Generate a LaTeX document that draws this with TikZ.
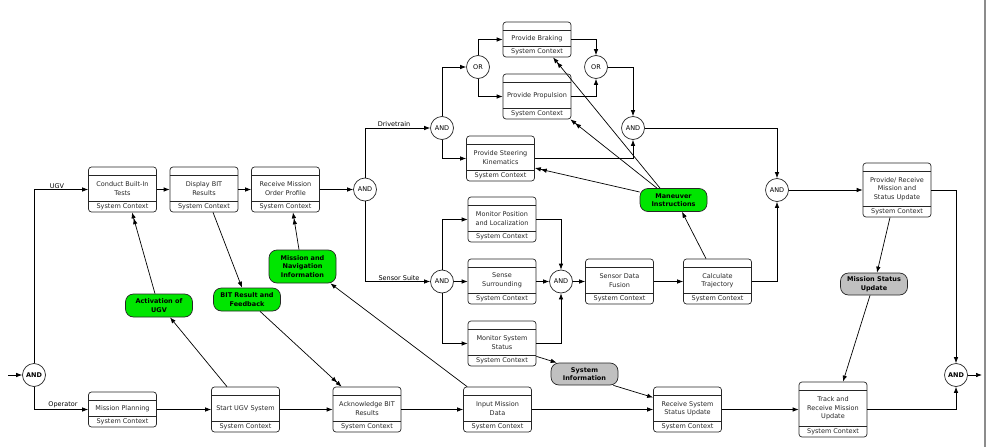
\documentclass[tikz,border=0pt]{standalone}
\usepackage{fontspec}
\setmainfont{DejaVu Sans}
\usepackage{tikz}
\usetikzlibrary{arrows.meta}
\definecolor{dataGreen}{RGB}{0,230,0}
\definecolor{dataGrey}{RGB}{192,192,192}
\tikzset{
	fn_box/.style = {rectangle, draw=black!85, rounded corners=3pt,
		minimum width=68pt, inner sep=0pt},
	fn_text/.style = {align=center, inner sep=0pt, text=black!85,
		font=\fontsize{6.5}{8.5}\selectfont},
	gate_n/.style = {circle, draw=black!85, fill=white, minimum size=23pt,
		inner sep=0pt, font=\fontsize{6.5}{8}\selectfont},
	gate_b/.style = {gate_n, font=\fontsize{6.5}{8}\selectfont\bfseries},
	item_g/.style = {draw=black!85, fill=dataGreen, rounded corners=8pt, align=center,
		minimum width=67pt, minimum height=23pt, inner sep=1pt,
		font=\fontsize{6.5}{8.5}\selectfont\bfseries},
	item_s/.style = {item_g, fill=dataGrey},
	lbl/.style = {anchor=south, inner sep=1pt, font=\fontsize{6.5}{8}\selectfont}
}
% function box: name, x, y, height, text
\newcommand{\fnnode}[5]{%
	\node[fn_box, minimum height=#4pt] (#1) at (#2,#3) {};
	\draw[-, draw=black!85] ([yshift=-9pt]#1.north west) -- ([yshift=-9pt]#1.north east);
	\draw[-, draw=black!85] ([yshift=11pt]#1.south west) -- ([yshift=11pt]#1.south east);
	\node[fn_text] (#1_t) at ([yshift=1pt]#1.center) {#5};
	\node[fn_text] (#1_c) at ([yshift=5.5pt]#1.south) {System Context};
}

\begin{document}
\begin{tikzpicture}[x=1pt, y=-1pt, ->, >={Latex[length=6pt,width=4.5pt]}, line width=0.7pt]
\useasboundingbox (0,0) rectangle (995,447);
\draw[-, draw=black!45, line width=1.5pt] (985,0) -- (985,447);

% functions
\fnnode{ctest}{122.5}{189.5}{45}{Conduct Built-In\\Tests}
\fnnode{dbit}{204}{189.5}{45}{Display BIT\\Results}
\fnnode{rmop}{285.5}{189.5}{45}{Receive Mission\\Order Profile}
\fnnode{mplan}{122.5}{409.5}{35}{Mission Planning}
\fnnode{sugv}{245.5}{409.5}{45}{Start UGV System}
\fnnode{ack}{367}{409.5}{45}{Acknowledge BIT\\Results}
\fnnode{input}{497.5}{409.5}{45}{Input Mission\\Data}
\fnnode{recv}{687.5}{409.5}{45}{Receive System\\Status Update}
\fnnode{track}{833}{409.5}{55}{Track and\\Receive Mission\\Update}
\fnnode{prm}{897}{190}{54}{Provide/ Receive\\Mission and\\Status Update}
\fnnode{calc}{717.5}{281.5}{45}{Calculate\\Trajectory}
\fnnode{fusion}{619.5}{281.5}{45}{Sensor Data\\Fusion}
\fnnode{mpl}{502}{219.5}{45}{Monitor Position\\and Localization}
\fnnode{sense}{502}{281.5}{45}{Sense\\Surrounding}
\fnnode{mss}{502}{343.5}{45}{Monitor System\\Status}
\fnnode{steer}{500.5}{158.5}{45}{Provide Steering\\Kinematics}
\fnnode{brake}{537}{39.5}{35}{Provide Braking}
\fnnode{prop}{537}{96.5}{45}{Provide Propulsion}

% gates
\node[gate_b] (and0) at (34,375) {AND};
\node[gate_n] (andA) at (365,189.5) {AND};
\node[gate_n] (andD) at (442,128) {AND};
\node[gate_n] (andS) at (442,281.5) {AND};
\node[gate_n] (orL) at (478,67) {OR};
\node[gate_n] (orR) at (596,67) {OR};
\node[gate_n] (andO) at (633,128) {AND};
\node[gate_n] (andF) at (561,281.5) {AND};
\node[gate_n] (andM) at (777,190) {AND};
\node[gate_b] (andE) at (956,375) {AND};
\coordinate (in0) at (8,375);
\coordinate (out0) at (982,375);

% items
\node[item_g] (man) at (673.5,200) {Maneuver\\Instructions};
\node[item_g] (act) at (159,305.5) {Activation of\\UGV};
\node[item_g] (bitr) at (247,299.5) {BIT Result and\\Feedback};
\node[item_g, minimum height=33pt] (mnav) at (302.5,266.5) {Mission and\\Navigation\\Information};
\node[item_s, minimum height=22pt] (sysinf) at (584.5,374) {System\\Information};
\node[item_s, minimum height=22pt] (msu) at (874,284) {Mission Status\\Update};

% labels
\node[lbl] (l_ugv) at (57,189.5) {UGV};
\node[lbl] (l_op) at (63,409.5) {Operator};
\node[lbl] (l_drv) at (394,128) {Drivetrain};
\node[lbl] (l_sens) at (399,281.5) {Sensor Suite};

% control flow
\draw (in0) -- (and0);
\draw (and0) |- (ctest);
\draw (and0) |- (mplan);
\draw (ctest) -- (dbit);
\draw (dbit) -- (rmop);
\draw (rmop) -- (andA);
\draw (mplan) -- (sugv);
\draw (sugv) -- (ack);
\draw (ack) -- (input);
\draw (input) -- (recv);
\draw (recv) -- (track);
\draw (track) -| (andE);
\draw (andE) -- (out0);
\draw (andA) |- (andD);
\draw (andA) |- (andS);
\draw (andD) |- (orL);
\draw (andD) |- (steer);
\draw (orL) |- (brake);
\draw (orL) |- (prop);
\draw (brake) -| (orR);
\draw (prop) -| (orR);
\draw (orR) -| (andO);
\draw (steer) -| (andO);
\draw (andO) -| (andM);
\draw (andS) |- (mpl);
\draw (andS) -- (sense);
\draw (andS) |- (mss);
\draw (mpl) -| (andF);
\draw (sense) -- (andF);
\draw (mss) -| (andF);
\draw (andF) -- (fusion);
\draw (fusion) -- (calc);
\draw (calc) -| (andM);
\draw (andM) -- (prm);
\draw (prm) -| (andE);

% items in and out
\draw[->>] ([xshift=-4pt]act.north) -- ([xshift=9.5pt]ctest.south);
\draw ([xshift=-18.5pt]sugv.north) -- ([xshift=11pt]act.south);
\draw ([xshift=9pt]dbit.south) -- ([xshift=-5pt]bitr.north);
\draw[->>] ([xshift=13pt]bitr.south) -- ([xshift=9pt]ack.north west);
\draw[->>] ([xshift=-3.5pt]mnav.north) -- ([xshift=7.5pt]rmop.south);
\draw ([xshift=4pt]input.north west) -- ([xshift=-6pt]mnav.south east);
\draw ([yshift=10pt]mss.south east) -- ([xshift=6pt]sysinf.north west);
\draw ([xshift=-5pt]sysinf.south east) -- ([yshift=12pt]recv.west);
\draw ([xshift=-11.5pt]calc.north) -- ([xshift=8.5pt]man.south);
\draw[->>] ([xshift=-13.5pt]man.north) -- ([xshift=16pt]brake.south);
\draw[->>] ([xshift=-16.5pt]man.north) -- ([xshift=-1pt]prop.south east);
\draw[->>] ([yshift=8pt]man.west) -- ([yshift=-9.5pt]steer.east);
\draw ([xshift=-7pt]prm.south) -- ([xshift=3pt]msu.north);
\draw ([xshift=-4pt]msu.south) -- ([xshift=10pt]track.north);
\end{tikzpicture}
\end{document}
